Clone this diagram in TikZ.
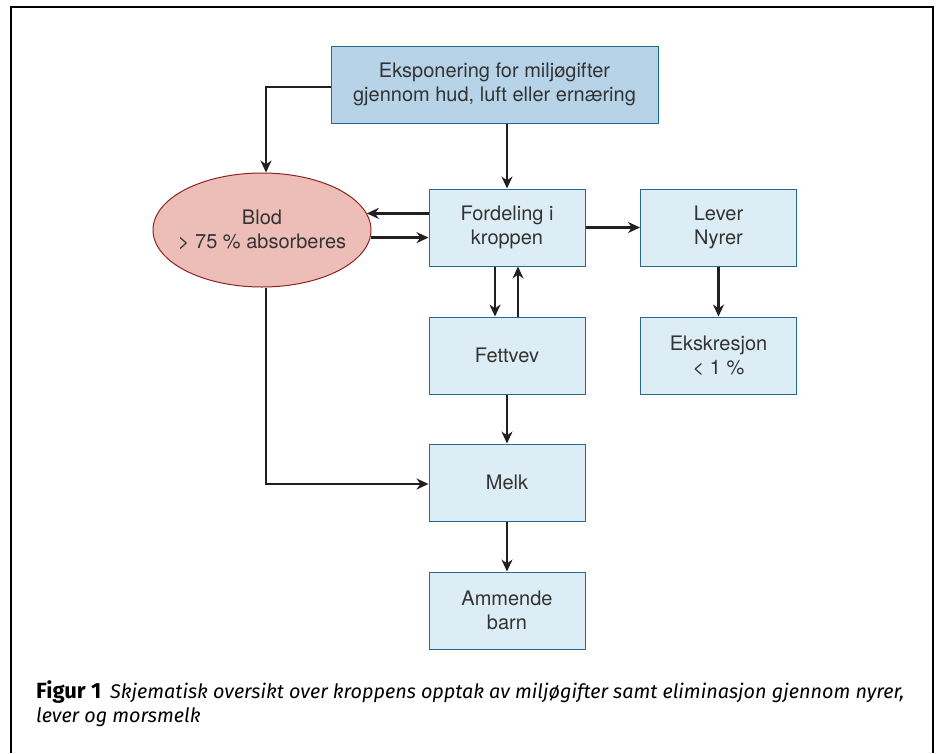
\documentclass[tikz,border=0pt]{standalone}
\usepackage{fontspec}
\setmainfont{TeX Gyre Heros}
\newfontfamily\capfont{Fira Sans}
\usetikzlibrary{arrows.meta, positioning, shapes.geometric, calc}
\definecolor{mgdark}{HTML}{231F20}
\definecolor{mgtext}{HTML}{333333}
\definecolor{mgedge}{HTML}{236B8E}
\definecolor{mgtop}{HTML}{B6D3E7}
\definecolor{mglight}{HTML}{DDEDF5}
\definecolor{mgblood}{HTML}{EDBEB8}
\definecolor{mgbloodedge}{HTML}{8E2323}

\begin{document}
\begin{tikzpicture}[
  x=1pt, y=-1pt,
  every node/.style={font=\fontsize{20}{24}\selectfont, text=mgtext},
  lbox/.style={rectangle, draw=mgedge, fill=mglight, line width=1pt, minimum width=156pt, minimum height=77pt, align=center, inner sep=0pt},
  tbox/.style={lbox, fill=mgtop, minimum width=327pt},
  bbox/.style={ellipse, draw=mgbloodedge, fill=mgblood, line width=1pt, minimum width=218pt, minimum height=114pt, align=center, inner xsep=-16pt, inner ysep=0pt},
  arr/.style={-{Stealth[length=12pt, width=11pt]}, draw=mgdark, line width=2.7pt},
]
\useasboundingbox (0,0) rectangle (939,753);

% Frame
\draw[line width=2.6pt, black] (11,753) -- (11,7) -- (933,7) -- (933,753);

% Exposure and blood
\node[tbox] (expo) at (494.5,84.5) {Eksponering for miljøgifter\\gjennom hud, luft eller ernæring};
\node[bbox] (blod) at (262,230) {Blod\\> 75 \% absorberes};

% Distribution
\node[lbox] (ford) at (507,227.5) {Fordeling i\\kroppen};
\node[lbox] (lever) at (718.5,227.5) {Lever\\Nyrer};
\node[lbox] (fett) at (507,355.5) {Fettvev};
\node[lbox] (ekskr) at (718.5,355.5) {Ekskresjon\\< 1 \%};
\node[lbox] (melk) at (507,482.5) {Melk};
\node[lbox] (barn) at (507,610.5) {Ammende\\barn};

% Caption
\node[anchor=base west, align=left, inner sep=0pt, text=black, font=\capfont\fontsize{19.8}{24}\selectfont] (cap) at (36,722)
  {\textbf{\fontsize{22}{24}\selectfont Figur 1}\hspace{9pt}\textit{Skjematisk oversikt over kroppens opptak av miljøgifter samt eliminasjon gjennom nyrer,}\\
   \textit{lever og morsmelk}};

% Connections
\draw[arr] ([yshift=-2.5pt]expo.west) -| ([xshift=4pt]blod.north);
\draw[arr] (expo.south -| ford.north) -- (ford.north);
\draw[arr] (ford.west |- blod.9) -- (blod.9);
\draw[arr] (blod.-4) -- (ford.west |- blod.-4);
\draw[arr] (ford) -- (lever);
\draw[arr] ([xshift=-12pt]ford.south) -- ([xshift=-12pt]fett.north);
\draw[arr] ([xshift=11pt]fett.north) -- ([xshift=11pt]ford.south);
\draw[arr] (lever) -- (ekskr);
\draw[arr] (fett) -- (melk);
\draw[arr] ([xshift=4pt]blod.south) |- ([yshift=-1.5pt]melk.west);
\draw[arr] (melk) -- (barn);

\end{tikzpicture}
\end{document}
